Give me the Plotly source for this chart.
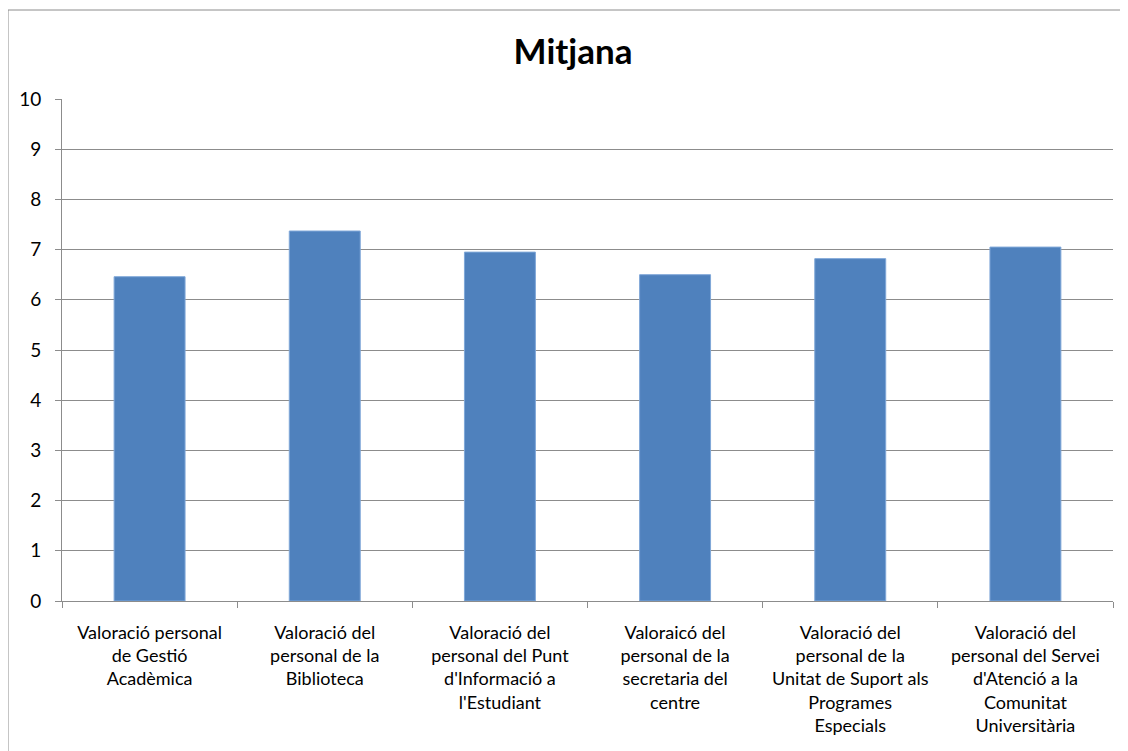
import plotly.graph_objects as go

categories = [
    "Valoració personal<br>de Gestió<br>Acadèmica",
    "Valoració del<br>personal de la<br>Biblioteca",
    "Valoració del<br>personal del Punt<br>d'Informació a<br>l'Estudiant",
    "Valoraicó del<br>personal de la<br>secretaria del<br>centre",
    "Valoració del<br>personal de la<br>Unitat de Suport als<br>Programes<br>Especials",
    "Valoració del<br>personal del Servei<br>d'Atenció a la<br>Comunitat<br>Universitària",
]
values = [6.46, 7.37, 6.95, 6.50, 6.82, 7.05]
y_ticks = list(range(0, 11))

OFF = 8  # page body offset
W, H = 1128, 751
L, T = 62 - OFF, 99 - OFF
pw, ph = 1051, 502
R = W - L - pw
B = H - T - ph

fig = go.Figure(go.Bar(
    x=categories, y=values,
    marker=dict(color="#4F81BD", line=dict(color="#7FA7D8", width=1)),
))

gray = "#8C8C8C"
FONT = "Lato, Open Sans, sans-serif"
fig.update_layout(
    width=W, height=H,
    margin=dict(l=L, r=R, t=T, b=B),
    paper_bgcolor="white", plot_bgcolor="white",
    bargap=0.595,
    showlegend=False,
    font=dict(family=FONT, size=18, color="black"),
    title=dict(text="<b>Mitjana</b>", x=(573 - OFF) / W, xanchor="center",
               y=1 - (52 - OFF) / H, yanchor="middle",
               font=dict(size=35, family=FONT)),
    xaxis=dict(
        showline=True, linecolor=gray, linewidth=1,
        ticks="outside", tickson="boundaries", ticklen=6, tickcolor=gray,
        showgrid=False, tickangle=0, tickfont=dict(size=18),
        ticklabelstandoff=15,
    ),
    yaxis=dict(
        range=[0, 10], tickvals=y_ticks, showline=True, linecolor=gray, linewidth=1,
        ticks="outside", ticklen=6, tickcolor=gray,
        showgrid=True, gridcolor=gray, gridwidth=1,
        zeroline=False, tickfont=dict(size=19), ticklabelstandoff=10,
    ),
    shapes=[dict(
        type="rect", xref="paper", yref="paper",
        x0=(0 - L) / pw, x1=(W + 20 - L) / pw,
        y0=-(B + 20) / ph, y1=(ph + T - 2) / ph,
        line=dict(color=gray, width=1), fillcolor="rgba(0,0,0,0)", layer="below",
    )],
)

fig.write_html("out.html")
